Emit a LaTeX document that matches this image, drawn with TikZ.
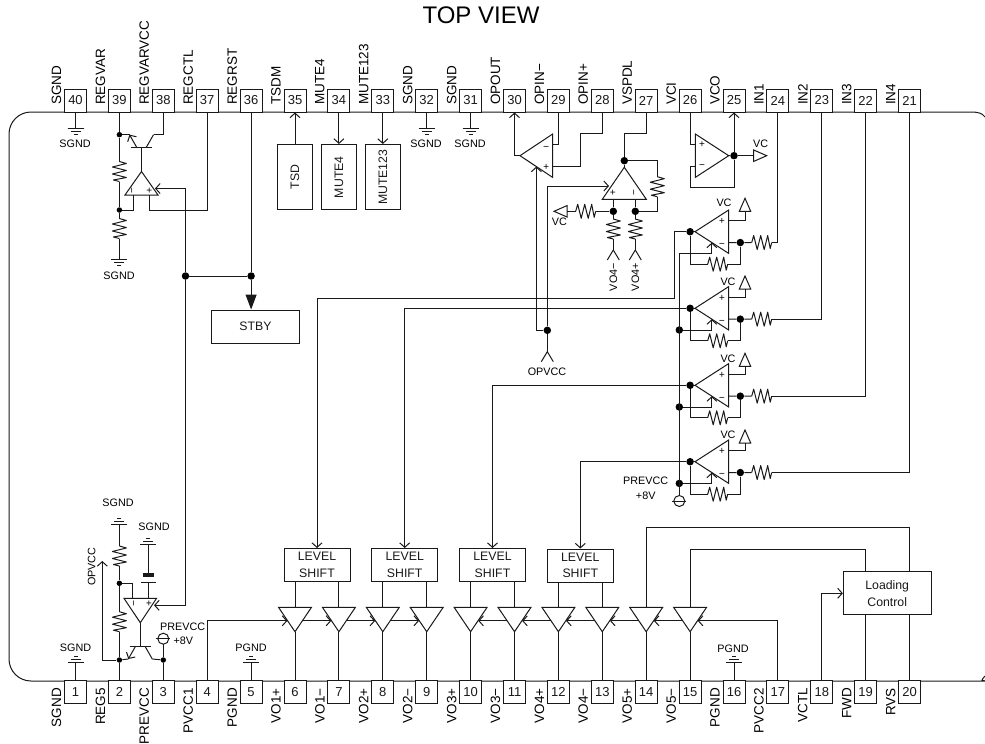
\documentclass[tikz,border=0pt]{standalone}
\usepackage{fontspec}
\setmainfont{Liberation Sans}
\usetikzlibrary{arrows.meta}
\newcommand*{\smalltxt}{\fontsize{10.8}{13}\selectfont}
\newcommand*{\boxtxt}{\fontsize{12.3}{16.6}\selectfont}
\tikzset{
      wire/.style = { line width=1pt, color=black!90 },
      barb/.style = { wire, -{Straight Barb[length=4.5pt,width=10pt]} },
       fat/.style = { wire, -{Triangle[length=15pt,width=11pt]} },
       dot/.style = { circle, fill=black, inner sep=0pt, minimum size=5.5pt },
    bigdot/.style = { dot, minimum size=7.5pt },
   pinnode/.style = { draw, wire, fill=white, font=\fontsize{13}{15}\selectfont, inner sep=0pt,
                      minimum width=22pt, minimum height=23pt },
    pinlab/.style = { font=\fontsize{13.5}{15}\selectfont, rotate=90, inner sep=0pt },
    sidetx/.style = { font=\smalltxt, inner sep=0pt },
   uprighttx/.style = { sidetx, rotate=90 },
    boxnode/.style = { draw, wire, fill=white, font=\boxtxt, align=center, inner sep=0pt },
       sgn/.style = { font=\fontsize{10}{10}\selectfont, inner sep=0pt, rotate=90, transform shape },
  pics/amp/.style n args = {4}{code={
    \draw [wire, fill=white] (0,0) -- (-#1,#2) -- (#1,#2) -- cycle;
    \coordinate (-tip) at (0,0);
    \coordinate (-a)   at (-.5*#1,#2);
    \coordinate (-b)   at (.5*#1,#2);
    \coordinate (-sa)  at (-.5*#1,.5*#2);
    \coordinate (-sb)  at (.5*#1,.5*#2);
    \node [sgn] (-m) at (-.5*#1,.8*#2) {#3};
    \node [sgn] (-n) at (.5*#1,.8*#2) {#4};
  }},
  pics/buf/.style = {code={
    \draw [wire, fill=white] (0,0) -- (-16.5,-24.4) -- (16.5,-24.4) -- cycle;
    \coordinate (-tip) at (0,0);
    \coordinate (-top) at (0,-24.4);
    \coordinate (-l)   at (-7.6,-10.9);
    \coordinate (-r)   at (7.6,-10.9);
  }},
  pics/res/.style = {code={
    \draw [wire, line join=round] (-10,0) -- (-8,-7) -- (-4.5,7) -- (-1,-7) -- (2.5,7) -- (6,-7) -- (8.5,6) -- (10,0);
    \coordinate (-a) at (-10,0);
    \coordinate (-b) at (10,0);
  }},
  pics/gnd/.style = {code={
    \draw [wire] (-8,0) -- (8,0);
    \draw [wire] (-5,3) -- (5,3);
    \draw [wire] (-2,6) -- (2,6);
    \coordinate (-o) at (0,0);
  }},
  pics/vref/.style = {code={
    \draw [wire, fill=white] (0,0) -- (-5.7,13) -- (5.7,13) -- cycle;
    \coordinate (-base) at (0,13);
  }},
  pics/fork/.style = {code={
    \draw [wire] (-6,10) -- (0,0) -- (6,10);
    \coordinate (-o) at (0,0);
  }},
  pics/srcv/.style = {code={
    \draw [wire] (0,0) circle [radius=5.5];
    \draw [wire] (-7,0) -- (7,0);
    \coordinate (-u) at (0,-5.5);
    \coordinate (-d) at (0,5.5);
  }},
  pics/npn/.style = {code={
    \draw [wire] (-10.5,0) -- (10.5,0);
    \draw [barb] (-5,0) -- (-12,-12.3);
    \draw [wire] (5,0) -- (12,-12.3);
    \coordinate (-b) at (0,0);
    \coordinate (-e) at (-12,-12.3);
    \coordinate (-c) at (12,-12.3);
  }},
  pics/cap/.style = {code={
    \draw [wire] (-7.5,4) -- (7.5,4);
    \draw [wire, line width=3.5pt] (-5.5,-3) -- (5.5,-3);
    \coordinate (-a) at (0,-3);
    \coordinate (-b) at (0,4);
  }},
}

\begin{document}
\begin{tikzpicture}[x=1pt,y=-1pt]
  \useasboundingbox (0,0) rectangle (985,744);
  \node [font=\fontsize{24}{26}\selectfont, inner sep=0pt] (title) at (481,15) {TOP VIEW};
  \draw [wire] (985,117) .. controls (982,113) and (978,112) .. (970,112)
    [rounded corners=22pt] -- (9,112) -- (9,681) -- (970,681)
    [sharp corners] .. controls (978,681) and (982,680) .. (985,676);

  \foreach \n/\lab in {40/SGND,39/REGVAR,38/REGVARVCC,37/REGCTL,36/REGRST,35/TSDM,34/MUTE4,33/MUTE123,
                       32/SGND,31/SGND,30/OPOUT,29/OPIN−,28/OPIN+,27/VSPDL,26/VCI,25/VCO,24/IN1,23/IN2,22/IN3,21/IN4} {
    \pgfmathsetmacro\px{75.5+43.9*(40-\n)}
    \node [pinnode] (p\n) at (\px,100.5) {\n};
    \node [pinlab, anchor=west] (l\n) at (\px-19,105) {\lab};
  }
  \foreach \n/\lab in {1/SGND,2/REG5,3/PREVCC,4/PVCC1,5/PGND,6/VO1+,7/VO1−,8/VO2+,9/VO2−,10/VO3+,
                       11/VO3−,12/VO4+,13/VO4−,14/VO5+,15/VO5−,16/PGND,17/PVCC2,18/VCTL,19/FWD,20/RVS} {
    \pgfmathsetmacro\px{75.5+43.9*(\n-1)}
    \node [pinnode] (p\n) at (\px,692) {\n};
    \node [pinlab, anchor=east] (l\n) at (\px-19,688) {\lab};
  }

  \foreach \n in {40,32,31} {
    \pic (g\n) at (p\n |- 0,128) {gnd};
    \draw [wire] (p\n.south) -- (g\n-o);
  }
  \foreach \n in {1,5,16} {
    \pic [rotate=180] (g\n) at (p\n |- 0,662.7) {gnd};
    \draw [wire] (p\n.north) -- (g\n-o);
  }
  \foreach \k/\lab/\x/\y in {1/SGND/75/144,2/SGND/426/144,3/SGND/470/144,4/SGND/119/276,5/SGND/118/503,
                             6/SGND/154/527,7/SGND/75.5/647.7,8/PGND/251/647.7,9/PGND/733/648.3} {
    \node [sidetx] (ng\k) at (\x,\y) {\lab};
  }

  \pic (a1) at (141.5,171.5) {amp={16.5}{23.5}{−}{+}};
  \pic (q1) at (141.5,147) {npn};
  \pic [rotate=-90] (r1) at (p39 |- 0,171.5) {res};
  \pic [rotate=-90] (r2) at (p39 |- 0,228.5) {res};
  \pic (ga) at (p39 |- 0,259) {gnd};
  \node [dot] (d1) at (p39 |- 0,134.7) {};
  \node [dot] (d2) at (p39 |- 0,210) {};
  \node [bigdot] (d3) at (185.5,276) {};
  \node [bigdot] (d4) at (p36 |- 0,276) {};
  \coordinate (a1-in) at (155,188.5);
  \draw [wire] (p39.south) -- (d1) -- (r1-a);
  \draw [wire] (r1-b) -- (d2) -- (r2-a);
  \draw [wire] (r2-b) -- (ga-o);
  \draw [wire] (d1) -- (q1-e);
  \draw [wire] (q1-c) -| (p38.south);
  \draw [wire] (a1-tip) -- (q1-b);
  \draw [wire] (a1-a) |- (d2);
  \draw [wire] (a1-b) -- ++(0,15) -| (p37.south);
  \draw [barb] (d3) |- (a1-in);
  \draw [wire] (d3) -- (d4);
  \draw [wire] (p36.south) -- (d4);

  \node [boxnode, minimum width=88pt, minimum height=33pt] (stby) at (255.5,326.5) {STBY};
  \draw [fat] (d4) -- (d4 |- stby.north);
  \node [boxnode, minimum width=35pt, minimum height=65.5pt] (tsd) at (p35 |- 0,177.2) {\rotatebox{90}{TSD}};
  \node [boxnode, minimum width=35pt, minimum height=65.5pt] (mute4) at (p34 |- 0,177.2) {\rotatebox{90}{MUTE4}};
  \node [boxnode, minimum width=35pt, minimum height=65.5pt] (mute123) at (p33 |- 0,177.2) {\rotatebox{90}{MUTE123}};
  \draw [barb] (tsd.north) -- (p35.south);
  \draw [barb] (p34.south) -- (mute4.north);
  \draw [barb] (p33.south) -- (mute123.north);

  \pic [rotate=90] (b) at (520,155.7) {amp={21.7}{32.7}{+}{−}};
  \coordinate (c28) at (580,133.3);
  \draw [barb] (b-tip) -| (p30.south);
  \draw [wire] (p29.south) |- (b-b);
  \draw [wire] (b-a) -| (c28) -| (p28.south);

  \pic (c) at (624.3,167.3) {amp={22}{32}{+}{−}};
  \pic [rotate=-90] (rc) at (657.3,186.7) {res};
  \pic (rv) at (585.7,211.3) {res};
  \pic [rotate=90] (vl) at (554,211.3) {vref};
  \node [bigdot] (d5) at (624.3,160.7) {};
  \node [bigdot] (d6) at (c-a |- 0,211.3) {};
  \node [bigdot] (d7) at (c-b |- 0,211.3) {};
  \pic [rotate=-90] (r4) at (c-a |- 0,229) {res};
  \pic [rotate=-90] (r5) at (c-b |- 0,229) {res};
  \pic (f4) at (c-a |- 0,250) {fork};
  \pic (f5) at (c-b |- 0,250) {fork};
  \coordinate (c27) at (624.3,133.3);
  \coordinate (c-in) at (609,186);
  \draw [wire] (p27.south) |- (c27) -- (d5) -- (c-tip);
  \draw [wire] (d5) -| (rc-a);
  \draw [wire] (rc-b) |- (d7);
  \draw [wire] (c-a) -- (d6);
  \draw [wire] (c-b) -- (d7);
  \draw [wire] (d6) -- (rv-b);
  \draw [wire] (rv-a) -- (vl-base);
  \draw [wire] (d6) -- (r4-a);
  \draw [wire] (d7) -- (r5-a);
  \draw [wire] (r4-b) -- (f4-o);
  \draw [wire] (r5-b) -- (f5-o);
  \node [uprighttx, anchor=east] (nvom) at (c-a |- 0,263) {VO4−};
  \node [uprighttx, anchor=east] (nvop) at (c-b |- 0,263) {VO4+};
  \node [sidetx] (nvl) at (559.3,221.7) {VC};

  \pic [rotate=-90] (dd) at (728.7,155.7) {amp={21.7}{33.4}{+}{−}};
  \pic [rotate=-90] (vr) at (766.7,155.7) {vref};
  \node [bigdot] (d8) at (p25 |- 0,155.7) {};
  \coordinate (c26) at (p26 |- 0,187.7);
  \draw [wire] (p26.south) |- (dd-a);
  \draw [wire] (dd-b) -| (c26) -| (d8);
  \draw [barb] (d8) -- (p25.south);
  \draw [wire] (dd-tip) -- (d8) -- (vr-base);
  \node [sidetx] (nvr) at (760.7,143.3) {VC};

  \foreach \k/\y/\pin/\vx/\vy/\ty in {1/231.7/24/724/202.7/198.3,2/308.3/23/728/281.7/276,
                                      3/385.3/22/728/359/353.3,4/461.7/21/728/435/430} {
    \pic [rotate=90] (e\k) at (695,\y) {amp={21.7}{33.7}{−}{+}};
    \pic (ri\k) at (761.7,\y+10.85) {res};
    \pic (rf\k) at (717.7,\y+32.5) {res};
    \pic (vt\k) at (745,\ty) {vref};
    \node [bigdot] (ed\k) at (p26 |- 0,\y) {};
    \node [bigdot] (ei\k) at (740.3,\y+10.85) {};
    \coordinate (ep\k) at (679.3,\y+21.7);
    \draw [wire] (e\k-tip) -- (ed\k);
    \draw [wire] (e\k-a) -- (ei\k) -- (ri\k-a);
    \draw [wire] (ri\k-b) -| (p\pin.south);
    \draw [wire] (ed\k) |- (rf\k-a);
    \draw [wire] (rf\k-b) -| (ei\k);
    \draw [wire] (e\k-b) -| (vt\k-base);
    \draw [barb] (ep\k) -| (e\k-sa);
    \node [sidetx] (nvt\k) at (\vx,\vy) {VC};
  }
  \foreach \k in {2,3,4} {
    \node [bigdot] (epd\k) at (ep\k) {};
  }
  \pic (pv1) at (679.3,501) {srcv};
  \draw [wire] (ep1) -- (pv1-u);
  \node [sidetx] (nprea) at (645.7,481) {PREVCC};
  \node [sidetx] (npreb) at (645.7,495.7) {+8V};

  \node [bigdot] (dv) at (547.3,330.3) {};
  \pic (fv) at (547.3,351.7) {fork};
  \draw [barb] (dv) -| (b-sa);
  \draw [barb] (dv) |- (c-in);
  \draw [wire] (dv) -- (fv-o);
  \node [sidetx] (nopv) at (547,371.7) {OPVCC};

  \foreach \k/\x/\y in {1/317/565,2/404.7/565,3/492.5/565,4/580.3/565.5} {
    \node [boxnode, minimum width=66pt, minimum height=33pt] (ls\k) at (\x,\y) {LEVEL\\SHIFT};
  }
  \coordinate (c1) at (674.3,298);
  \draw [barb] (ed1) -| (c1) -| (ls1.north);
  \draw [barb] (ed2) -| (ls2.north);
  \draw [barb] (ed3) -| (ls3.north);
  \draw [barb] (ed4) -| (ls4.north);

  \foreach \n in {6,...,15} {
    \pic (t\n) at (p\n |- 0,631.7) {buf};
    \draw [wire] (t\n-tip) -- (p\n.north);
  }
  \foreach \k/\n in {1/6,1/7,2/8,2/9,3/10,3/11,4/12,4/13} {
    \draw [wire] (t\n-top) -- (t\n-top |- ls\k.south);
  }
  \draw [barb] (p4.north) |- (t6-l);
  \foreach \i/\j in {6/7,7/8,8/9} {
    \draw [barb] (t\i-r) -- (t\j-l);
  }
  \foreach \i/\j in {15/14,14/13,13/12,12/11,11/10} {
    \draw [barb] (t\i-l) -- (t\j-r);
  }
  \draw [barb] (p17.north) |- (t15-r);

  \coordinate (c14) at (p20 |- 0,527.3);
  \coordinate (c15) at (p19 |- 0,549.3);
  \draw [wire] (t14-top) |- (c14) -- (p20.north);
  \draw [wire] (t15-top) |- (c15) -- (p19.north);
  \node [boxnode, minimum width=87.7pt, minimum height=43.3pt] (load) at (887.2,593.3) {Loading\\Control};
  \draw [barb] (p18.north) |- (load.west);

  \pic [rotate=180] (f) at (140.3,622.7) {amp={16.3}{24.4}{+}{−}};
  \pic [yscale=-1] (q2) at (140.3,646.7) {npn};
  \pic [rotate=180] (gt) at (p2 |- 0,524.3) {gnd};
  \pic [rotate=-90] (rt) at (p2 |- 0,556) {res};
  \pic [rotate=-90] (rb) at (p2 |- 0,621.7) {res};
  \node [dot] (d9) at (p2 |- 0,583.3) {};
  \node [dot] (d10) at (p2 |- 0,660) {};
  \node [dot] (d11) at (p3 |- 0,660) {};
  \pic (cp) at (f-a |- 0,578) {cap};
  \pic [rotate=180] (gc) at (f-a |- 0,544.3) {gnd};
  \pic (pv2) at (p3 |- 0,638.7) {srcv};
  \coordinate (a2-in) at (154,605.3);
  \coordinate (c5) at (102.3,561);
  \draw [wire] (gt-o) -- (rt-a);
  \draw [wire] (rt-b) -- (d9) -- (rb-a);
  \draw [wire] (rb-b) -- (d10) -- (p2.north);
  \draw [wire] (f-b) |- (d9);
  \draw [wire] (f-a) -- (cp-b);
  \draw [wire] (cp-a) -- (gc-o);
  \draw [wire] (f-tip) -- (q2-b);
  \draw [wire] (d10) -- (q2-e);
  \draw [wire] (q2-c) -- (d11);
  \draw [wire] (p3.north) -- (d11) -- (pv2-d);
  \draw [barb] (d10) -| (c5);
  \draw [barb] (d3) |- (a2-in);
  \node [uprighttx] (nopw) at (91.7,566.7) {OPVCC};
  \node [sidetx] (nprec) at (182.7,626.7) {PREVCC};
  \node [sidetx] (npred) at (183.3,641) {+8V};
\end{tikzpicture}
\end{document}
